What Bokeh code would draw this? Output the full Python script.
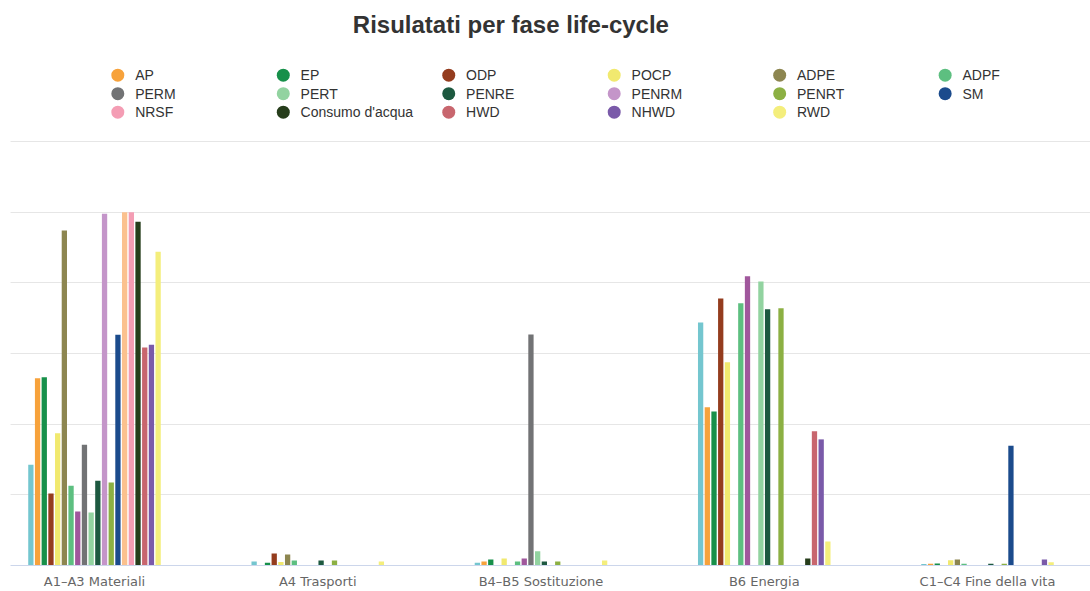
from bokeh.plotting import figure
from bokeh.layouts import column
from bokeh.models import ColumnDataSource, Range1d, FixedTicker, Grid
from bokeh.transform import dodge
from bokeh.core.properties import value
from bokeh.embed import file_html
from bokeh.resources import INLINE

# Life-cycle phases (x categories)
phases = ["A1–A3 Materiali", "A4 Trasporti", "B4–B5 Sostituzione",
          "B6 Energia", "C1–C4 Fine della vita"]

# Share of each indicator per phase (%)
GWP = [28.5, 1.1, 0.8, 68.8, 0.4]
AP = [53.0, 0.0, 1.1, 44.8, 0.5]
EP = [53.3, 0.8, 1.7, 43.6, 0.6]
ODP = [20.4, 3.4, 0.0, 75.6, 0.0]
POCP = [37.4, 1.0, 2.0, 57.5, 1.5]
ADPE = [94.8, 3.1, 0.0, 0.0, 1.7]
ADPF = [22.6, 1.4, 1.1, 74.2, 0.5]
PERE = [15.3, 0.0, 2.0, 81.9, 0.0]
PERM = [34.2, 0.0, 65.4, 0.0, 0.0]
PERT = [15.0, 0.0, 4.0, 80.4, 0.0]
PENRE = [24.0, 1.4, 1.1, 72.5, 0.5]
PENRM = [99.6, 0.0, 0.0, 0.0, 0.0]
PENRT = [23.5, 1.4, 1.1, 72.8, 0.5]
SM = [65.3, 0.0, 0.0, 0.0, 33.9]
RSF = [100.0, 0.0, 0.0, 0.0, 0.0]
NRSF = [100.0, 0.0, 0.0, 0.0, 0.0]
FW = [97.3, 0.0, 0.0, 2.0, 0.0]
HWD = [61.7, 0.0, 0.0, 38.0, 0.0]
NHWD = [62.5, 0.0, 0.0, 35.7, 1.7]
RWD = [88.8, 1.1, 1.4, 6.8, 0.9]

series_names = ["GWP", "AP", "EP", "ODP", "POCP", "ADPE", "ADPF", "PERE", "PERM",
                "PERT", "PENRE", "PENRM", "PENRT", "SM", "RSF", "NRSF",
                "Consumo d'acqua", "HWD", "NHWD", "RWD"]
series_values = [GWP, AP, EP, ODP, POCP, ADPE, ADPF, PERE, PERM, PERT, PENRE,
                 PENRM, PENRT, SM, RSF, NRSF, FW, HWD, NHWD, RWD]
series_colors = ["#74c6cf", "#f7a23b", "#17904a", "#943c1e", "#f1e96f", "#8d8650",
                 "#5dbf80", "#a0579c", "#727375", "#92d3a0", "#1d5940", "#c495c9",
                 "#8cb043", "#1b4b8c", "#fbc18e", "#f49db4", "#263d1b", "#c8666e",
                 "#7a5aa9", "#f4ee7c"]

# Entries listed in the legend
legend_names = ["AP", "EP", "ODP", "POCP", "ADPE", "ADPF",
                "PERM", "PERT", "PENRE", "PENRM", "PENRT", "SM",
                "NRSF", "Consumo d'acqua", "HWD", "NHWD", "RWD"]

W = 1090
HEAD_H = 140
MAIN_H = 591 - HEAD_H

# ---------- header: title + legend ----------
head = figure(width=W, height=HEAD_H, x_range=Range1d(0, W), y_range=Range1d(HEAD_H, 0),
              x_axis_location=None, y_axis_location=None, toolbar_location=None,
              output_backend="svg", min_border=0, outline_line_color=None)
head.xgrid.visible = False
head.ygrid.visible = False

head.text(x=[505], y=[24], text=["Risulatati per fase life-cycle"],
          text_align="center", text_baseline="middle",
          text_font=value("Liberation Sans"), text_font_style="bold",
          text_font_size="24px", text_color="#333333")

ncol = 6
col_w = 167.0
x0, y0, row_h = 108.3, 74.7, 18.5
lx, ly, ltxt, lcol = [], [], [], []
for k, name in enumerate(legend_names):
    r, c = divmod(k, ncol)
    lx.append(x0 + col_w * c)
    ly.append(y0 + row_h * r)
    ltxt.append(name)
    lcol.append(series_colors[series_names.index(name)])

head.scatter(x=lx, y=ly, marker="circle", size=13, fill_color=lcol, line_color=None)
head.text(x=[v + 17.5 for v in lx], y=ly, text=ltxt,
          text_align="left", text_baseline="middle",
          text_font=value("Liberation Sans"), text_font_size="14px",
          text_color="#333333")

# ---------- bar chart ----------
unit = 223.25
left_px = 10
x_start = (left_px - 94) / unit
x_end = x_start + (W - left_px) / unit

p = figure(width=W, height=MAIN_H, x_range=Range1d(x_start, x_end),
           y_range=Range1d(0, 120.3), y_axis_location=None,
           toolbar_location=None, output_backend="svg",
           min_border_left=left_px, min_border_right=0, min_border_top=0,
           min_border_bottom=25, outline_line_color=None,
           background_fill_color="white", border_fill_color="white")
p.xgrid.visible = False

p.add_layout(Grid(dimension=1, ticker=FixedTicker(ticks=[20, 40, 60, 80, 100, 120]),
                  grid_line_color="#e6e6e6", grid_line_width=1))

n = len(series_names)
group_w = 0.6
slot = group_w / n
positions = list(range(len(phases)))
for i, (name, vals, colr) in enumerate(zip(series_names, series_values, series_colors)):
    src = ColumnDataSource(data=dict(pos=positions, top=vals))
    off = -group_w / 2 + slot * (i + 0.5)
    p.vbar(x=dodge("pos", off), top="top", bottom=0, width=slot * 0.79,
           source=src, fill_color=colr, line_color=None)

ax = p.xaxis[0]
ax.ticker = FixedTicker(ticks=positions)
ax.major_label_overrides = {i: lab for i, lab in enumerate(phases)}
ax.minor_tick_line_color = None
ax.major_tick_line_color = None
ax.major_tick_out = 0
ax.major_tick_in = 0
ax.major_label_standoff = 8
ax.axis_line_color = "#ccd6eb"
ax.axis_line_width = 1
ax.major_label_text_font = "DejaVu Sans"
ax.major_label_text_font_size = "13px"
ax.major_label_text_color = "#666666"

layout = column(head, p, spacing=0)

open("out.html", "w").write(file_html(layout, INLINE))
